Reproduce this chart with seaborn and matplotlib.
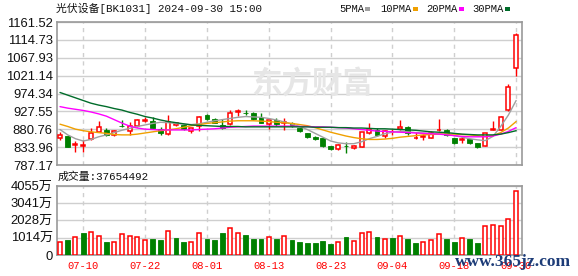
import numpy as np
import pandas as pd
import matplotlib
matplotlib.use("Agg")
import matplotlib.pyplot as plt
from matplotlib.patches import Rectangle
import seaborn as sns

# ---------------- data ----------------
title = "光伏设备[BK1031] 2024-09-30 15:00"
opens = [857, 863, 839, 838, 854, 874, 880, 867, 890, 876,
         888, 903, 902, 881, 868, 892, 893, 876, 890, 918,
         907, 891, 894, 926, 924, 923, 913, 895, 904, 897,
         896, 883, 871, 861, 857, 836, 829, 838, 832, 834,
         870, 880, 864, 873, 881, 886, 857, 860, 859, 878,
         879, 857, 852, 855, 844, 838, 880, 880, 930, 1040]
highs = [873, 864, 850, 852, 883, 903, 883, 879, 905, 900,
         907, 914, 914, 887, 918, 899, 895, 884, 916, 920,
         910, 907, 932, 935, 930, 926, 922, 906, 910, 911,
         899, 885, 872, 862, 858, 838, 841, 848, 840, 874,
         896, 884, 878, 882, 904, 889, 874, 868, 875, 908,
         881, 858, 862, 856, 845, 871, 903, 915, 999, 1134]
lows = [853, 833, 822, 822, 853, 873, 863, 864, 887, 866,
        887, 901, 883, 867, 867, 889, 878, 872, 876, 905,
        896, 882, 893, 916, 917, 905, 896, 882, 890, 880,
        886, 873, 859, 853, 834, 826, 827, 819, 829, 833,
        868, 864, 858, 867, 879, 866, 855, 852, 857, 876,
        864, 842, 845, 843, 832, 836, 879, 879, 929, 1021]
closes = [867, 835, 841, 840, 872, 887, 867, 876, 889, 890,
          905, 906, 885, 870, 901, 896, 881, 883, 914, 908,
          897, 884, 922, 928, 922, 907, 898, 905, 894, 899,
          888, 875, 861, 855, 836, 828, 839, 836, 837, 873,
          882, 866, 875, 874, 887, 870, 858, 862, 871, 879,
          866, 846, 856, 846, 835, 870, 881, 914, 991, 1128]
# volume in 万 (10k)
volumes = [745, 882, 1038, 1293, 1352, 1097, 764, 745, 1215, 1097,
           1038, 882, 940, 882, 1391, 999, 764, 764, 1274, 940,
           882, 1293, 1568, 1274, 1156, 940, 940, 1038, 940, 1097,
           882, 764, 705, 705, 823, 647, 764, 1058, 823, 1274,
           1352, 1058, 940, 999, 1097, 940, 705, 764, 882, 1215,
           940, 764, 999, 940, 705, 1685, 1744, 1685, 2097, 3765]
vol_up = [1, 0, 1, 0, 1, 1, 0, 1, 1, 1,
          1, 1, 0, 0, 1, 0, 0, 1, 1, 0,
          0, 0, 1, 1, 0, 0, 0, 1, 0, 1,
          0, 0, 0, 0, 0, 0, 1, 0, 1, 1,
          1, 0, 1, 0, 1, 0, 0, 1, 1, 1,
          0, 0, 1, 0, 0, 1, 1, 1, 1, 1]
ma5 = [880, 866, 856, 850, 854, 861, 866, 872, 878, 883,
       888, 892, 896, 899, 898, 896, 894, 893, 895, 899,
       903, 906, 909, 912, 914, 913, 912, 909, 905, 900,
       894, 888, 880, 870, 860, 850, 845, 843, 843, 848,
       856, 862, 869, 873, 875, 874, 872, 871, 870, 869,
       868, 864, 860, 856, 853, 851, 862, 888, 918, 956]
ma10 = [894, 888, 881, 877, 874, 872, 870, 867, 866, 866,
        868, 871, 874, 877, 879, 882, 886, 890, 893, 896,
        898, 900, 902, 903, 903, 903, 902, 901, 899, 898,
        896, 893, 890, 885, 879, 873, 868, 863, 859, 856,
        854, 854, 855, 857, 860, 862, 864, 866, 867, 868,
        868, 868, 867, 866, 864, 862, 864, 872, 884, 901]
ma20 = [940, 936, 933, 930, 926, 921, 915, 906, 897, 889,
        884, 881, 880, 879, 879, 879, 879, 879, 880, 881,
        882, 884, 886, 887, 888, 889, 889, 889, 889, 889,
        889, 888, 888, 887, 887, 886, 885, 884, 882, 880,
        878, 876, 875, 874, 873, 872, 871, 870, 869, 868,
        866, 864, 862, 861, 861, 861, 863, 868, 875, 885]
ma30 = [977, 970, 963, 956, 949, 944, 940, 935, 931, 925,
        920, 914, 910, 905, 901, 898, 895, 892, 891, 890,
        889, 888, 888, 888, 887, 887, 887, 887, 887, 887,
        887, 887, 887, 886, 886, 886, 885, 885, 884, 884,
        883, 882, 882, 881, 880, 879, 878, 876, 874, 873,
        872, 870, 868, 867, 866, 866, 866, 868, 872, 877]
price_ticks = [787.17, 833.96, 880.76, 927.55, 974.34, 1021.14, 1067.93, 1114.73, 1161.52]
vol_ticks = [0, 1014, 2028, 3041, 4055]
vol_tick_labels = ["0", "1014万", "2028万", "3041万", "4055万"]
date_tick_idx = [3, 11, 19, 27, 35, 43, 51, 59]
date_tick_labels = ["07-10", "07-22", "08-01", "08-13", "08-23", "09-04", "09-18", "09-30"]
ma_names = ["5PMA", "10PMA", "20PMA", "30PMA"]
last_volume = "37654492"

# ---------------- style ----------------
sns.set_theme(style="white")
plt.rcParams["font.family"] = ["Liberation Sans", "Noto Sans CJK SC"]
MONO = ["Liberation Mono", "Noto Sans CJK SC"]
RED = "#ff0000"
GREEN = "#008000"
MA_COLORS = ["#a0a0a0", "#f0a000", "#ff00ff", "#006c2a"]
GRID = "#cfcfcf"
FRAME = "#999999"

W, H = 578, 276
fig = plt.figure(figsize=(W / 100, H / 100), dpi=100)


def rect(x0, y0, x1, y1):
    return [x0 / W, 1 - y1 / H, (x1 - x0) / W, (y1 - y0) / H]


ax1 = fig.add_axes(rect(57, 22, 522, 165))
ax2 = fig.add_axes(rect(57, 186, 522, 255))

n = len(closes)
idx = np.arange(n)
df = pd.DataFrame({"i": idx, "open": opens, "high": highs, "low": lows,
                   "close": closes, "vol": volumes, "vup": vol_up,
                   "ma5": ma5, "ma10": ma10, "ma20": ma20, "ma30": ma30})
up = df["close"] >= df["open"]

# ---------------- candles ----------------
for is_up, col in [(True, RED), (False, GREEN)]:
    d = df[up == is_up]
    ax1.vlines(d["i"], d["low"], d["high"], color=col, lw=1, zorder=2)
    body = (d["close"] - d["open"]).abs().clip(lower=0.6)
    bottom = np.minimum(d["open"], d["close"])
    if is_up:
        ax1.bar(d["i"], body, bottom=bottom, width=0.52, facecolor="white",
                edgecolor=col, linewidth=1.1, zorder=3)
    else:
        ax1.bar(d["i"], body, bottom=bottom, width=0.62, facecolor=col,
                edgecolor=col, linewidth=0.6, zorder=3)

for name, col in zip(["ma5", "ma10", "ma20", "ma30"], MA_COLORS):
    sns.lineplot(data=df, x="i", y=name, ax=ax1, color=col, linewidth=1.0,
                 zorder=4, legend=False)

# ---------------- volume ----------------
vu = df[df["vup"] == 1]
vd = df[df["vup"] == 0]
ax2.bar(vu["i"], vu["vol"], width=0.52, facecolor="white", edgecolor=RED,
        linewidth=1.1, zorder=3)
ax2.bar(vd["i"], vd["vol"], width=0.62, facecolor=GREEN, edgecolor=GREEN,
        linewidth=0.6, zorder=3)

# ---------------- axes styling ----------------
xlim = (-0.39, n - 1 + 0.76)
for ax in (ax1, ax2):
    ax.set_xlim(*xlim)
    ax.set_xticks(date_tick_idx)
    ax.set_axisbelow(True)
    ax.xaxis.grid(True, color=GRID, lw=1, ls=(0, (3, 3)))
    ax.yaxis.grid(True, color=GRID, lw=1, ls="-")
    ax.set_xlabel("")
    ax.set_ylabel("")
    for s in ax.spines.values():
        s.set_color(FRAME)
        s.set_linewidth(1.2)
    ax.tick_params(axis="both", length=0, pad=3)
    ax.set_facecolor("white")

ax1.set_ylim(price_ticks[0], price_ticks[-1])
ax1.set_yticks(price_ticks)
ax1.set_yticklabels([f"{v:.2f}" for v in price_ticks], fontsize=9.4, color="#111111")
ax1.set_xticklabels([])

ax2.set_ylim(0, vol_ticks[-1])
ax2.set_yticks(vol_ticks)
ax2.set_yticklabels(vol_tick_labels, fontsize=9.4, color="#111111")
ax2.set_xticklabels(date_tick_labels, color=RED, fontsize=7.6, family=MONO)
ax2.tick_params(axis="x", pad=4)

# ---------------- texts ----------------
def px_text(x, y, s, **kw):
    fig.text(x / W, 1 - y / H, s, **kw)

px_text(56, 8, title, fontsize=7.8, family=MONO, color="#111111", va="center", ha="left")
px_text(58, 177, "成交量:" + last_volume, fontsize=7.8, family=MONO, color="#111111",
        va="center", ha="left")

leg_x = [339, 380, 426, 472]
sq_x = [365, 413, 459, 505]
for name, col, tx, sx in zip(ma_names, MA_COLORS, leg_x, sq_x):
    px_text(tx, 8.5, name, fontsize=7.6, family=MONO, color="#111111", va="center", ha="left")
    fig.patches.append(Rectangle((sx / W, 1 - 11 / H), 5 / W, 4 / H,
                                 transform=fig.transFigure, facecolor=col,
                                 edgecolor="none"))

# watermark logos
px_text(312, 84, "东方财富", fontsize=22, family=["Noto Sans CJK SC"], fontweight="bold",
        color="#e6e6e6", va="center", ha="center", zorder=0)
px_text(513, 262, "www.365jz.com", fontsize=12.5, family=["Liberation Serif"],
        fontweight="bold", color="#1d3c78", va="center", ha="center")

fig.savefig("out.png", dpi=100, facecolor="white")
